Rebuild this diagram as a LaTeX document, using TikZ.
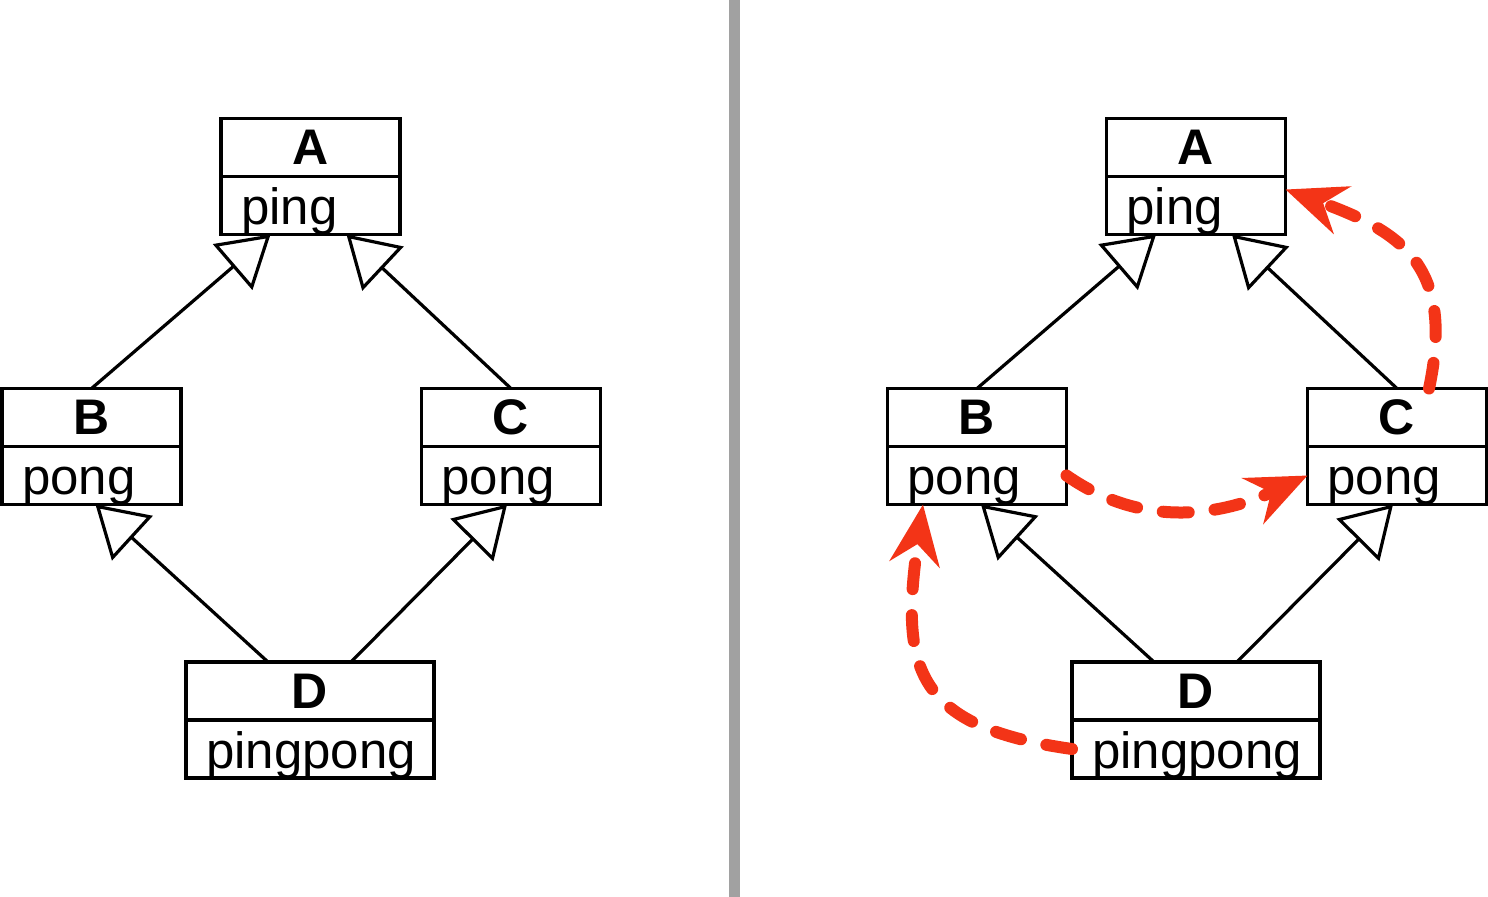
\documentclass[tikz,border=0pt]{standalone}
\usepackage{fontspec}
\setmainfont{Liberation Sans}
\usetikzlibrary{positioning,arrows.meta}
\definecolor{callred}{RGB}{243,52,23}
\definecolor{divider}{gray}{0.63}
\tikzset{
  classtitle/.style={draw, line width=1.8pt, outer sep=0pt, inner sep=0pt,
    minimum height=29pt, font=\fontsize{25}{28}\selectfont\bfseries},
  classbody/.style={draw, line width=1.8pt, outer sep=0pt, inner xsep=10pt, inner ysep=0pt,
    minimum height=29pt, text height=19pt, text depth=0pt, align=left,
    font=\fontsize{25.5}{30}\selectfont},
  inherits/.style={line width=1.6pt, -{Triangle[open,length=25pt,width=30pt]}},
  call/.style={callred, line width=6pt, line cap=round, dash pattern=on 13pt off 13pt,
    -{Stealth[length=30pt,width=25pt,inset=10pt]}},
}
\begin{document}
\begin{tikzpicture}[x=0.5pt,y=-0.5pt]
  \useasboundingbox (0,0) rectangle (1488,897);
  \draw[divider, line width=5.5pt] (734,0) -- (734,897); % Separator.

  % Left: plain diamond.
  \node[classtitle, minimum width=89.5pt] (A) at (310.5,147.5) {A};
  \node[classbody, text width=69.5pt, below=0pt of A] (Ab) {ping};
  \node[classtitle, minimum width=89.5pt] (B) at (91.5,417.5) {B};
  \node[classbody, text width=69.5pt, below=0pt of B] (Bb) {pong};
  \node[classtitle, minimum width=89.5pt] (C) at (511,417.5) {C};
  \node[classbody, text width=69.5pt, below=0pt of C] (Cb) {pong};
  \node[classtitle, minimum width=124pt] (D) at (310,691) {D};
  \node[classbody, text width=104pt, below=0pt of D] (Db) {pingpong};

  \draw[inherits] (B.north) -- ([xshift=-20pt]Ab.south);
  \draw[inherits] (C.north) -- ([xshift=18pt]Ab.south);
  \draw[inherits] ([xshift=-21pt]D.north) -- ([xshift=2pt]Bb.south);
  \draw[inherits] ([xshift=20.5pt]D.north) -- ([xshift=-2pt]Cb.south);

  % Right: same diamond with the lookup order.
  \node[classtitle, minimum width=89.5pt] (A2) at (1196,147.5) {A};
  \node[classbody, text width=69.5pt, below=0pt of A2] (Ab2) {ping};
  \node[classtitle, minimum width=89.5pt] (B2) at (977,417.5) {B};
  \node[classbody, text width=69.5pt, below=0pt of B2] (Bb2) {pong};
  \node[classtitle, minimum width=89.5pt] (C2) at (1397,417.5) {C};
  \node[classbody, text width=69.5pt, below=0pt of C2] (Cb2) {pong};
  \node[classtitle, minimum width=124pt] (D2) at (1196,691) {D};
  \node[classbody, text width=104pt, below=0pt of D2] (Db2) {pingpong};

  \draw[inherits] (B2.north) -- ([xshift=-20pt]Ab2.south);
  \draw[inherits] (C2.north) -- ([xshift=18pt]Ab2.south);
  \draw[inherits] ([xshift=-21pt]D2.north) -- ([xshift=2pt]Bb2.south);
  \draw[inherits] ([xshift=20.5pt]D2.north) -- ([xshift=-2pt]Cb2.south);

  \draw[call] (Db2.west) to[out=172,in=262,looseness=1.45] ([xshift=-27pt]Bb2.south);
  \draw[call] (Bb2.east) to[out=-35,in=205] (Cb2.west);
  \draw[call] ([xshift=16pt]C2.north) to[out=78,in=-20,looseness=1.3] ([yshift=8pt]Ab2.east);
\end{tikzpicture}
\end{document}
